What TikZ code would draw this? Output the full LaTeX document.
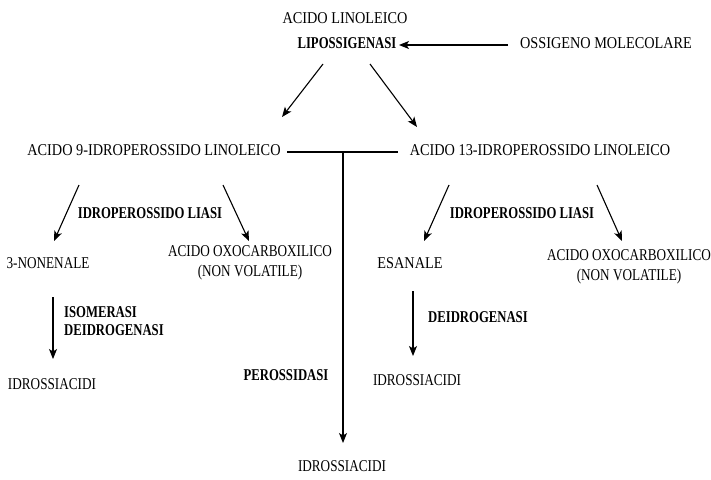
\documentclass[tikz,border=0pt]{standalone}
\usepackage{fontspec}
\setmainfont{Liberation Serif}[FakeStretch=0.866]
\newfontfamily\bfam{Liberation Serif}[FakeStretch=0.77]
\newfontfamily\nfam{Liberation Serif}[FakeStretch=0.80]
\usetikzlibrary{arrows.meta}
\newcommand{\bx}[1]{{\bfam\bfseries #1}}
\begin{document}
\begin{tikzpicture}[x=1pt,y=-1pt,
  lbl/.style={inner sep=0pt,anchor=mid,font=\fontsize{16.5}{20}\selectfont},
  nlbl/.style={inner sep=0pt,font=\fontsize{16.5}{20}\selectfont\nfam},
  enz/.style={lbl},
  arr/.style={line width=1.1pt,-{Stealth[length=10pt,width=8pt,inset=2.5pt]}},
  ln/.style={line width=1.1pt}]
\useasboundingbox (0,0) rectangle (711,479);
\fill[white] (0,0) rectangle (711,479);
% texts
\node[lbl] (lin) at (345,21) {ACIDO LINOLEICO};
\node[enz] (lox) at (347,46) {\bx{LIPOSSIGENASI}};
\node[lbl] (oxy) at (606,46) {OSSIGENO MOLECOLARE};
\node[lbl] (h9) at (154,153) {ACIDO 9-IDROPEROSSIDO LINOLEICO};
\node[lbl] (h13) at (540,153) {ACIDO 13-IDROPEROSSIDO LINOLEICO};
\node[enz] (lia1) at (150,216) {\bx{IDROPEROSSIDO LIASI}};
\node[enz] (lia2) at (522,216) {\bx{IDROPEROSSIDO LIASI}};
\node[nlbl,anchor=mid] (non) at (48,266) {3-NONENALE};
\node[lbl] (esa) at (410,266) {ESANALE};
\node[nlbl,align=center,anchor=center] (oxo1) at (250,263) {ACIDO OXOCARBOXILICO\\(NON VOLATILE)};
\node[nlbl,align=center,anchor=center] (oxo2) at (629,267) {ACIDO OXOCARBOXILICO\\(NON VOLATILE)};
\node[lbl,align=left,anchor=west,font=\fontsize{16.5}{18}\selectfont] (iso) at (64,321) {\bx{ISOMERASI}\\\bx{DEIDROGENASI}};
\node[enz,anchor=west] (deid) at (428,317) {\bx{DEIDROGENASI}};
\node[enz] (pero) at (286,378) {\bx{PEROSSIDASI}};
\node[nlbl,anchor=mid] (idr1) at (52,387) {IDROSSIACIDI};
\node[nlbl,anchor=mid] (idr2) at (417,383) {IDROSSIACIDI};
\node[nlbl,anchor=mid] (idr3) at (342,469) {IDROSSIACIDI};
% connector end points
\coordinate (oxS) at (508,45);  \coordinate (oxE) at (399,45);
\coordinate (a1S) at (323,64);  \coordinate (a1E) at (282,117);
\coordinate (a2S) at (370,64);  \coordinate (a2E) at (417,127);
\coordinate (b1S) at (79,185);  \coordinate (b1E) at (54,241);
\coordinate (b2S) at (223,185); \coordinate (b2E) at (249,241);
\coordinate (c1S) at (449,185); \coordinate (c1E) at (424,241);
\coordinate (c2S) at (597,185); \coordinate (c2E) at (622,241);
\coordinate (d1S) at (53,297);  \coordinate (d1E) at (53,359);
\coordinate (d2S) at (413,291); \coordinate (d2E) at (413,356);
\coordinate (hL) at (287,152);  \coordinate (hR) at (398,152);
\coordinate (j) at (343,152);   \coordinate (pE) at (343,443);
% connectors
\draw[arr] (oxS) -- (oxE);
\draw[arr] (a1S) -- (a1E);
\draw[arr] (a2S) -- (a2E);
\draw[arr] (b1S) -- (b1E);
\draw[arr] (b2S) -- (b2E);
\draw[arr] (c1S) -- (c1E);
\draw[arr] (c2S) -- (c2E);
\draw[arr] (d1S) -- (d1E);
\draw[arr] (d2S) -- (d2E);
\draw[ln] (hL) -- (hR);
\draw[arr] (j) -- (pE);
\end{tikzpicture}
\end{document}
